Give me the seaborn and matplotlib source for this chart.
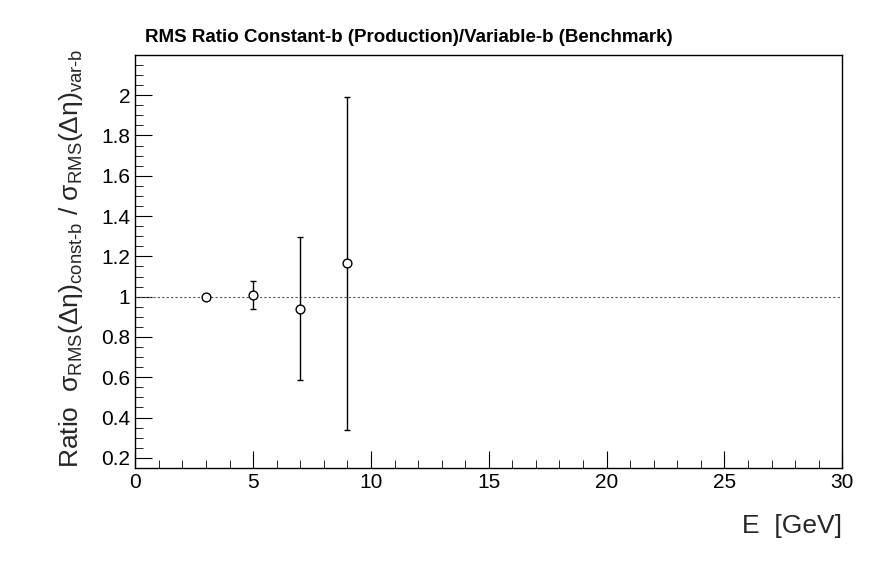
import matplotlib
matplotlib.use("Agg")
import matplotlib.pyplot as plt
import seaborn as sns
import pandas as pd
from matplotlib.ticker import MultipleLocator

energy = [3, 5, 7, 9]
ratio = [1.0, 1.01, 0.94, 1.165]
err_lo = [0.005, 0.07, 0.355, 0.825]
err_hi = [0.005, 0.07, 0.355, 0.825]

sns.set_style("ticks")
plt.rcParams['font.family'] = ['Liberation Sans', 'DejaVu Sans']
plt.rcParams['mathtext.fontset'] = 'custom'
plt.rcParams['mathtext.rm'] = 'Liberation Sans'
plt.rcParams['mathtext.it'] = 'Liberation Sans'
plt.rcParams['mathtext.default'] = 'regular'

fig = plt.figure(figsize=(8.96, 5.72), dpi=100)
ax = fig.add_axes([0.151, 0.182, 0.789, 0.722])
df = pd.DataFrame({"E": energy, "r": ratio})

ax.axhline(1.0, color='#555555', ls=(0, (2, 2)), lw=0.8, zorder=1)
ax.errorbar(energy, ratio, yerr=[err_lo, err_hi], fmt='none', ecolor='black',
            elinewidth=1, capsize=2.5, capthick=1, zorder=2)
sns.scatterplot(data=df, x="E", y="r", ax=ax, marker='o', s=40,
                facecolor='white', edgecolor='black', linewidth=1, zorder=3)

ax.set_xlim(0, 30)
ax.set_ylim(0.15, 2.2)
ax.xaxis.set_major_locator(MultipleLocator(5))
ax.xaxis.set_minor_locator(MultipleLocator(1))
ax.yaxis.set_minor_locator(MultipleLocator(0.05))
ax.set_yticks([0.2, 0.4, 0.6, 0.8, 1.0, 1.2, 1.4, 1.6, 1.8, 2.0])
ax.set_yticklabels(['0.2', '0.4', '0.6', '0.8', '1', '1.2', '1.4', '1.6', '1.8', '2'])
ax.tick_params(which='both', direction='in', top=False, right=False, labelsize=15,
               colors='black')
ax.tick_params(which='major', length=12)
ax.tick_params(which='minor', length=6)
for s in ax.spines.values():
    s.set_linewidth(1)
    s.set_color('black')

ax.set_xlabel('E  [GeV]', fontsize=19, loc='right', labelpad=16)
ax.set_ylabel(r'Ratio  $\sigma_{RMS}(\Delta\eta)_{const‐b}$ / $\sigma_{RMS}(\Delta\eta)_{var‐b}$',
              fontsize=19, loc='bottom', labelpad=12)
fig.text(0.162, 0.927, 'RMS Ratio Constant-b (Production)/Variable-b (Benchmark)',
         fontsize=13.5, fontweight='bold', color='black')
fig.savefig('out.png', dpi=100)
